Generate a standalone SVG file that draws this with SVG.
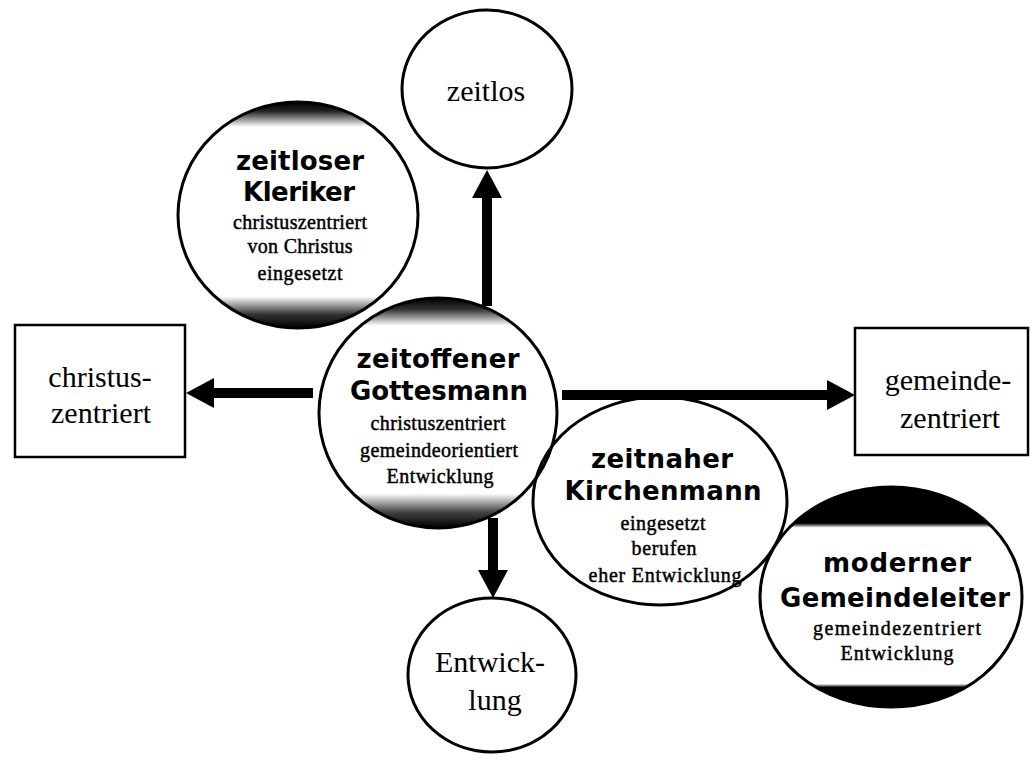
<svg xmlns="http://www.w3.org/2000/svg" width="1035" height="762" viewBox="0 0 1035 762">
<style>
.box{fill:#fff;stroke:#000;stroke-width:2.5}
.circ{stroke:#000;stroke-width:3}
.lbl{font-family:"Liberation Serif","Times New Roman",serif;font-size:30px;text-anchor:middle;fill:#000}
.bold{font-family:"DejaVu Sans","Verdana",sans-serif;font-weight:bold;font-size:26px;text-anchor:middle;fill:#000}
.small{font-family:"Liberation Serif","Times New Roman",serif;font-size:20px;text-anchor:middle;fill:#000;stroke:#000;stroke-width:0.45}
.arrow{stroke:#000;stroke-width:10;fill:none;marker-end:url(#head)}
</style>
<defs>
<marker id="head" markerUnits="userSpaceOnUse" viewBox="0 0 28 30" refX="0" refY="15" markerWidth="28" markerHeight="30" orient="auto">
<path d="M0,0 L28,15 L0,30 Z" fill="#000"/>
</marker>
<linearGradient id="gKler" x1="0" y1="0" x2="0" y2="1">
<stop offset="0" stop-color="#000"/>
<stop offset="0.04" stop-color="#222"/>
<stop offset="0.11" stop-color="#fff"/>
<stop offset="0.86" stop-color="#fff"/>
<stop offset="0.94" stop-color="#333"/>
<stop offset="1" stop-color="#000"/>
</linearGradient>
<linearGradient id="gGott" x1="0" y1="0" x2="0" y2="1">
<stop offset="0" stop-color="#000"/>
<stop offset="0.05" stop-color="#333"/>
<stop offset="0.12" stop-color="#fff"/>
<stop offset="0.85" stop-color="#fff"/>
<stop offset="0.93" stop-color="#444"/>
<stop offset="1" stop-color="#000"/>
</linearGradient>
<linearGradient id="gMod" x1="0" y1="0" x2="0" y2="1">
<stop offset="0" stop-color="#000"/>
<stop offset="0.165" stop-color="#000"/>
<stop offset="0.185" stop-color="#fff"/>
<stop offset="0.895" stop-color="#fff"/>
<stop offset="0.91" stop-color="#000"/>
<stop offset="1" stop-color="#000"/>
</linearGradient>
</defs>

<g id="node-christus">
<rect class="box" x="15" y="325" width="170" height="132"/>
<text class="lbl" x="100" y="387">christus-</text>
<text class="lbl" x="101" y="423">zentriert</text>
</g>

<g id="node-gemeinde">
<rect class="box" x="855" y="328" width="173" height="127"/>
<text class="lbl" x="948" y="390">gemeinde-</text>
<text class="lbl" x="950" y="428">zentriert</text>
</g>

<g id="node-zeitlos">
<ellipse class="circ" cx="487" cy="89" rx="85" ry="79" fill="#fff"/>
<text class="lbl" x="486" y="101" font-size="31">zeitlos</text>
</g>

<g id="node-entwicklung">
<ellipse class="circ" cx="492" cy="675" rx="84" ry="77" fill="#fff"/>
<text class="lbl" x="490" y="672">Entwick-</text>
<text class="lbl" x="495" y="710">lung</text>
</g>

<g id="node-kleriker">
<ellipse class="circ" cx="298" cy="215" rx="120" ry="113" fill="url(#gKler)" stroke-width="3.5"/>
<text class="bold" x="300" y="170" textLength="128">zeitloser</text>
<text class="bold" x="299" y="201" textLength="112">Kleriker</text>
<text class="small" x="300" y="229" textLength="134">christuszentriert</text>
<text class="small" x="300" y="253" textLength="105">von Christus</text>
<text class="small" x="300" y="280" textLength="85">eingesetzt</text>
</g>

<g id="node-gottesmann">
<ellipse class="circ" cx="438" cy="413" rx="119" ry="115" fill="url(#gGott)"/>
<text class="bold" x="438" y="368" textLength="163">zeitoffener</text>
<text class="bold" x="439" y="400" textLength="178">Gottesmann</text>
<text class="small" x="438" y="430" textLength="135">christuszentriert</text>
<text class="small" x="439" y="457" textLength="158">gemeindeorientiert</text>
<text class="small" x="440" y="483" textLength="107">Entwicklung</text>
</g>

<g id="node-gemeindeleiter">
<ellipse class="circ" cx="891" cy="597" rx="131" ry="110" fill="url(#gMod)"/>
<text class="bold" x="897" y="572" textLength="148">moderner</text>
<text class="bold" x="895" y="607" textLength="230">Gemeindeleiter</text>
<text class="small" x="897" y="635" textLength="168">gemeindezentriert</text>
<text class="small" x="897" y="660" textLength="113">Entwicklung</text>
</g>

<g id="node-kirchenmann">
<ellipse class="circ" cx="660" cy="501" rx="127" ry="104" fill="none"/>
<text class="bold" x="662" y="468" textLength="142">zeitnaher</text>
<text class="bold" x="663" y="500" textLength="197">Kirchenmann</text>
<text class="small" x="663" y="530" textLength="85">eingesetzt</text>
<text class="small" x="664" y="555" textLength="65">berufen</text>
<text class="small" x="665" y="582" textLength="153">eher Entwicklung</text>
</g>

<g id="connectors">
<line class="arrow" x1="313" y1="393" x2="214" y2="393"/>
<line class="arrow" x1="562" y1="395" x2="827" y2="395"/>
<line class="arrow" x1="487" y1="306" x2="487" y2="198"/>
<line class="arrow" x1="493" y1="518" x2="493" y2="570"/>
</g>
</svg>
